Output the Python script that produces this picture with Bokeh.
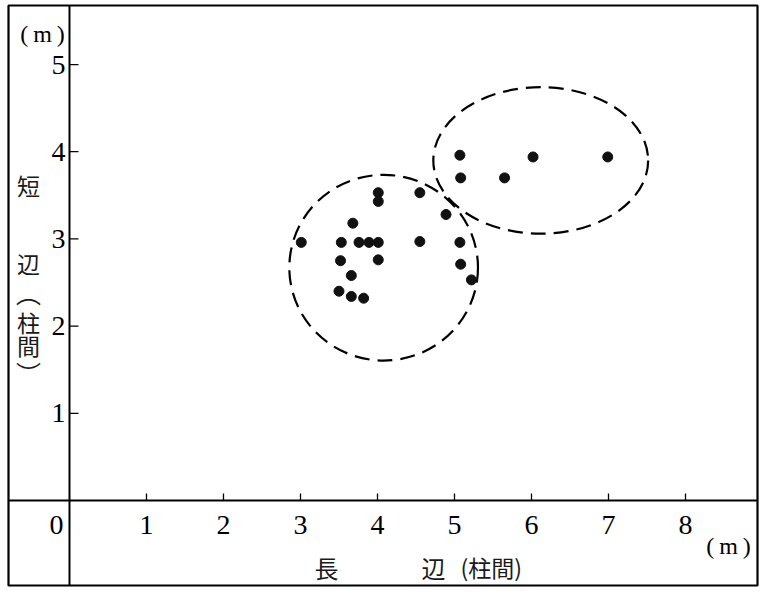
from bokeh.plotting import figure
from bokeh.models import Range1d, Span
from bokeh.embed import file_html
from bokeh.resources import INLINE
from bokeh.core.properties import value

# ---- data ----
long_side = [3.01, 3.53, 3.76, 3.89, 4.01, 3.68, 4.01, 4.01, 3.52, 4.01, 3.66, 3.50, 3.66, 3.82,
             5.07, 6.02, 6.99, 5.08, 5.65, 4.55, 4.89, 4.55, 5.07, 5.08, 5.22]
short_side = [2.96, 2.96, 2.96, 2.96, 2.96, 3.18, 3.53, 3.43, 2.75, 2.76, 2.58, 2.40, 2.34, 2.32,
              3.96, 3.94, 3.94, 3.70, 3.70, 3.53, 3.28, 2.97, 2.96, 2.71, 2.53]

group_x = [4.08, 6.12]
group_y = [2.67, 3.90]
group_w = [2.45, 2.79]
group_h = [2.13, 1.68]

x_ticks = [1, 2, 3, 4, 5, 6, 7, 8]
y_ticks = [1, 2, 3, 4, 5]
x_tick_labels = [str(t) for t in x_ticks]
y_tick_labels = [str(t) for t in y_ticks]

# ---- layout ----
LEFT, TOP = 8, 5
FW, FH = 749, 580
W, H = 768, 596
X0, X1 = -0.792, 8.935
Y0, Y1 = -0.975, 5.677
KX = FW / (X1 - X0)
KY = FH / (Y1 - Y0)


def px2x(page_x):
    return X0 + (page_x - LEFT) / KX


def px2y(page_y):
    return Y1 - (page_y - TOP) / KY


p = figure(width=W, height=H, output_backend="svg", toolbar_location=None,
           x_range=Range1d(X0, X1), y_range=Range1d(Y0, Y1),
           x_axis_type=None, y_axis_type=None,
           min_border_left=LEFT, min_border_top=TOP,
           min_border_right=W - LEFT - FW, min_border_bottom=H - TOP - FH,
           background_fill_color="white", border_fill_color="white")
p.grid.visible = False
p.outline_line_color = "black"
p.outline_line_width = 2.2

# axis lines
p.add_layout(Span(location=0, dimension="height", line_color="black", line_width=2))
p.add_layout(Span(location=0, dimension="width", line_color="black", line_width=2))

# ticks
p.segment(x0=x_ticks, y0=[0] * len(x_ticks), x1=x_ticks, y1=[7 / KY] * len(x_ticks),
          line_color="black", line_width=1.3)
p.segment(x0=[0] * len(y_ticks), y0=y_ticks, x1=[9 / KX] * len(y_ticks), y1=y_ticks,
          line_color="black", line_width=1.3)

num_font = value("Liberation Serif")
p.text(x=x_ticks, y=[0] * len(x_ticks), text=x_tick_labels, y_offset=25,
       text_align="center", text_baseline="middle", text_font=num_font,
       text_font_size="28px", text_color="black")
p.text(x=[0] * len(y_ticks), y=y_ticks, text=y_tick_labels, x_offset=-4,
       text_align="right", text_baseline="middle", text_font=num_font,
       text_font_size="28px", text_color="black")
p.text(x=[0], y=[0], text=["0"], x_offset=-13, y_offset=25,
       text_align="center", text_baseline="middle", text_font=num_font,
       text_font_size="28px", text_color="black")

# unit labels
unit = "(\u2009m\u2009)"
p.text(x=[px2x(42), px2x(728)], y=[px2y(33), px2y(545)], text=[unit, unit],
       text_align="center", text_baseline="middle", text_font=num_font,
       text_font_size="24px", text_color="black")

cjk = value("Noto Sans CJK JP")
# y axis title (vertical writing)
ytitle_chars = ["短", "辺", "柱", "間"]
ytitle_pos = [184, 262, 321, 344]
p.text(x=[px2x(28)] * len(ytitle_chars), y=[px2y(v) for v in ytitle_pos], text=ytitle_chars,
       text_align="center", text_baseline="middle", text_font=cjk,
       text_font_size="23px", text_color="#1a1a1a")
# vertical-form brackets
p.text(x=[px2x(28), px2x(28)], y=[px2y(291), px2y(372)], text=["\ufe35", "\ufe36"],
       text_align="center", text_baseline="middle", text_font=cjk,
       text_font_size="25px", text_color="#1a1a1a")

# x axis title
p.text(x=[px2x(326), px2x(433)], y=[px2y(567)] * 2, text=["長", "辺"],
       text_align="center", text_baseline="middle", text_font=cjk,
       text_font_size="24px", text_color="#1a1a1a")
p.text(x=[px2x(460)], y=[px2y(566)], text=["(柱間)"],
       text_align="left", text_baseline="middle", text_font=cjk,
       text_font_size="23px", text_color="#1a1a1a")

# groups (dashed ellipses)
p.ellipse(x=group_x, y=group_y, width=group_w, height=group_h,
          fill_color=None, line_color="black", line_width=2.2, line_dash="15 8")

# points
p.scatter(x=long_side, y=short_side, size=10, marker="circle",
          fill_color="#111111", line_color="#111111")

open("out.html", "w").write(file_html(p, INLINE))
